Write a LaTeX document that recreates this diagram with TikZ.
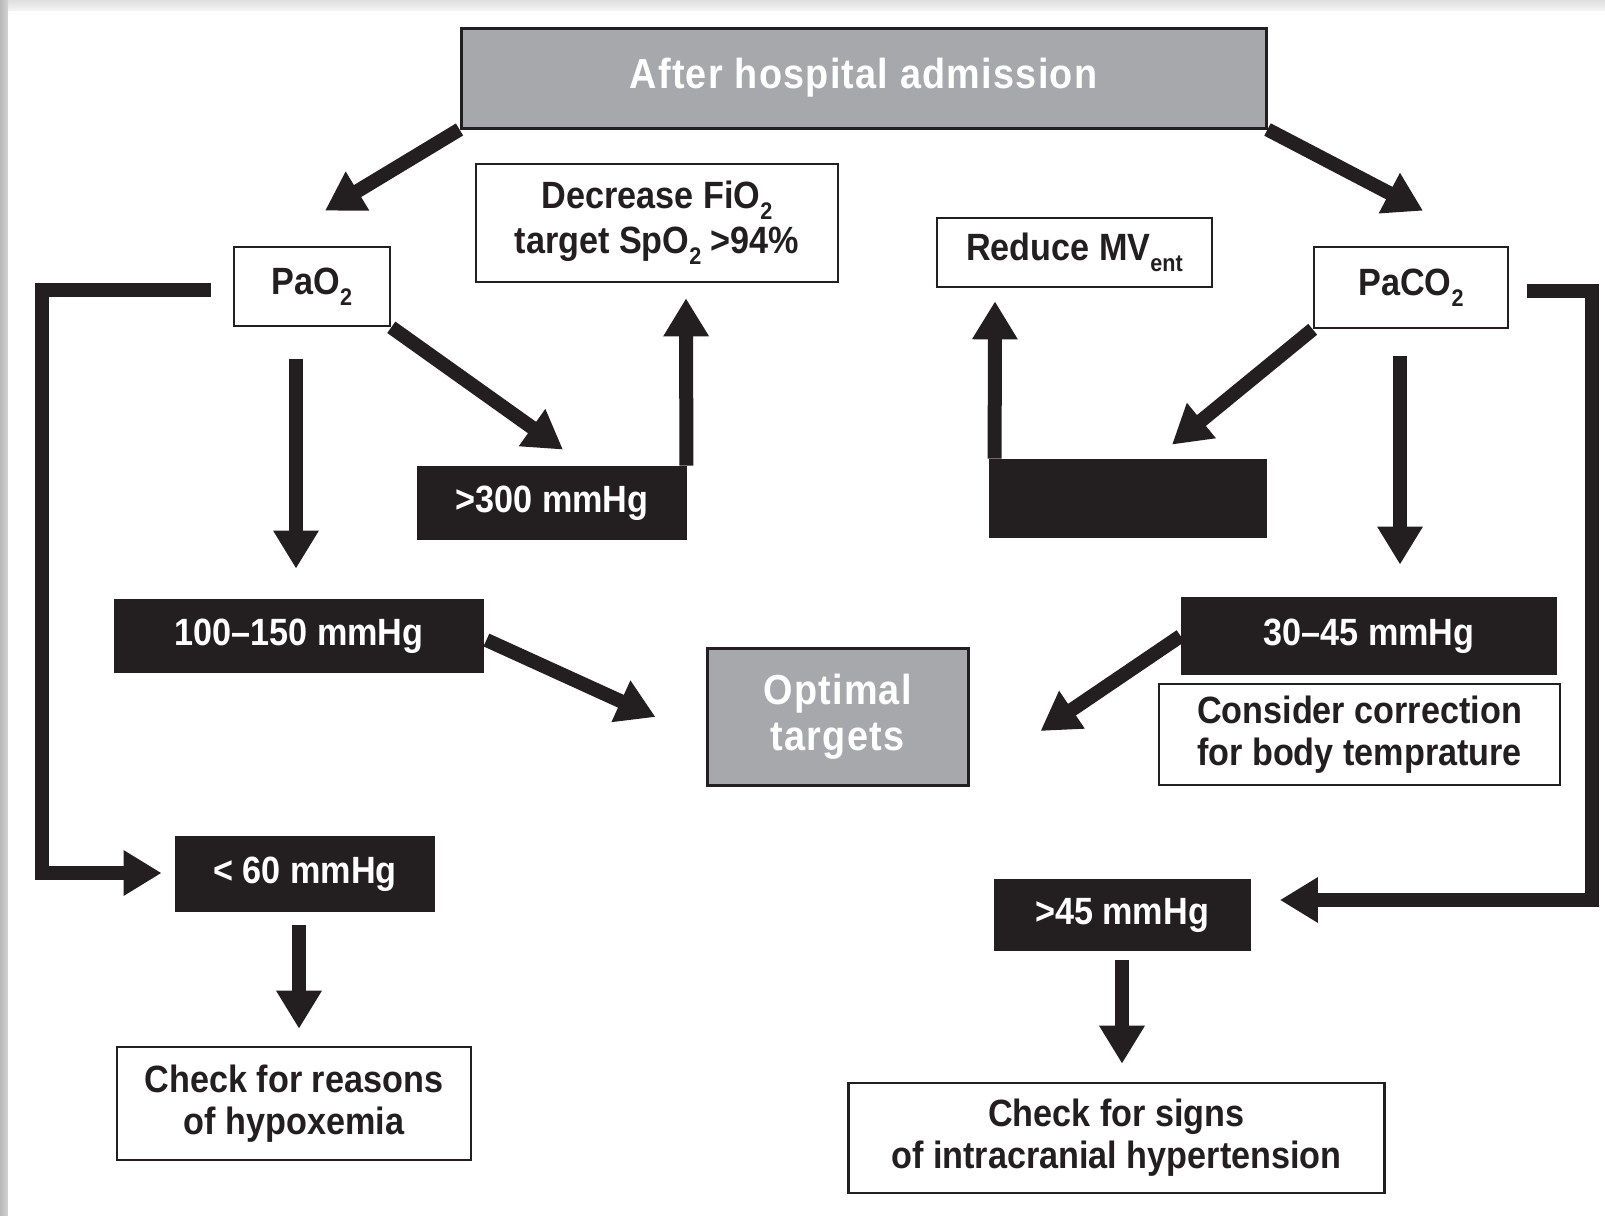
\documentclass[tikz,border=0pt]{standalone}
\usepackage{fontspec}
\setmainfont{Liberation Sans}[FakeStretch=0.9]
\usetikzlibrary{arrows.meta,calc}
\definecolor{ink}{HTML}{231F20}
\definecolor{boxgray}{HTML}{A6A8AB}
\newcommand{\subs}[1]{\raisebox{-0.28em}{\fontsize{12pt}{12pt}\selectfont #1}}
\pgfdeclarelayer{back}
\pgfdeclarelayer{mid}
\pgfsetlayers{back,mid,main}
\begin{document}
\begin{tikzpicture}[x=0.5pt,y=-0.5pt,
  sz/.style 2 args={minimum width=#1*0.5pt, minimum height=#2*0.5pt},
  base/.style={inner sep=0pt, align=center, font=\bfseries\fontsize{19pt}{21pt}\selectfont},
  wbox/.style={base, draw=ink, line width=1.3pt, fill=white, text=ink},
  bbox/.style={base, fill=ink, text=white},
  gbox/.style={base, draw=ink, line width=1.5pt, fill=boxgray, text=white,
    font=\bfseries\fontsize{21pt}{23pt}\selectfont\addfontfeature{LetterSpace=3}},
  arr/.style={draw=ink, line width=7pt, line join=miter, -{Triangle[length=19pt,width=21.5pt]}}]
\useasboundingbox (0,0) rectangle (1605,1215);
\begin{pgfonlayer}{back}
\shade[top color=gray!25, bottom color=gray!8] (0,0) rectangle (1605,11);
\shade[left color=gray!55, right color=gray!35] (0,0) rectangle (8,1215);
\fill[white] (8,11) rectangle (1605,1215);
\end{pgfonlayer}

\node[gbox, sz={805}{100}] (top) at (863.5,78) {After hospital admission};
\node[wbox, sz={362}{118}, font=\bfseries\fontsize{19pt}{22.5pt}\selectfont] (fio2) at (657,223) {Decrease FiO\subs{2}\\target SpO\subs{2} >94\%};
\node[wbox, sz={156}{79}] (pao2) at (312,286.5) {PaO\subs{2}};
\node[wbox, sz={275}{69}] (mvent) at (1074.5,252.5) {Reduce MV\subs{ent}};
\node[wbox, sz={194}{81}] (paco2) at (1411,287.5) {PaCO\subs{2}};
\node[bbox, sz={270}{74}] (g300) at (552,503) {>300 mmHg};
\node[bbox, sz={278}{79}] (blank) at (1128,498.5) {};
\node[bbox, sz={370}{74}] (r100) at (299,636) {100–150 mmHg};
\node[gbox, sz={261}{137}] (opt) at (837.5,716.5) {Optimal\\targets};
\node[bbox, sz={376}{78}] (r3045) at (1369,636) {30–45 mmHg};
\node[wbox, sz={401}{101}] (corr) at (1359.5,734.5) {Consider correction\\for body temprature};
\node[bbox, sz={260}{76}] (lt60) at (305,874) {< 60 mmHg};
\node[bbox, sz={257}{72}] (gt45) at (1122,915) {>45 mmHg};
\node[wbox, sz={354}{113}] (reasons) at (294,1103.5) {Check for reasons\\of hypoxemia};
\node[wbox, sz={536}{110}] (signs) at (1116.5,1138) {Check for signs\\of intracranial hypertension};

\coordinate (lc) at (42,290);
\coordinate (rc) at (1592,291);

\begin{pgfonlayer}{mid}
\draw[arr] (top.south west) -- ($(pao2.north)+(13,-35)$);
\draw[arr] (top.south east) -- ($(paco2.north)+(12,-35)$);
\draw[arr] (pao2.south east) -- ($(g300.north)+(11,-16)$);
\draw[arr] ($(g300.north east)+(-1,0)$) -- ($(fio2.south)+(29,15)$);
\draw[arr] ($(pao2.south)+(-16,32)$) -- ($(r100.north)+(-3,-30)$);
\draw[arr] ($(r100.east)+(2,4)$) -- ($(opt.west)+(-50,0.5)$);
\draw[arr] ($(pao2.west)+(-22,3.5)$) -- (lc) |- ($(lt60.west)+(-13,-1)$);
\draw[arr] ($(lt60.south)+(-6,13)$) -- ($(reasons.north)+(5,-17)$);
\draw[arr] ($(blank.north west)+(6,0)$) -- ($(mvent.south)+(-79.5,13)$);
\draw[arr] (paco2.south west) -- ($(blank.north)+(44,-14)$);
\draw[arr] ($(paco2.south)+(-11,27)$) -- ($(r3045.north)+(31,-32)$);
\draw[arr] (r3045.west) -- ($(opt.east)+(71,14.5)$);
\draw[arr] ($(paco2.east)+(18,3.5)$) -- (rc) |- ($(gt45.east)+(29,-15)$);
\draw[arr] ($(gt45.south)+(0,9)$) -- ($(signs.north)+(5.5,-18)$);
\end{pgfonlayer}
\end{tikzpicture}
\end{document}
